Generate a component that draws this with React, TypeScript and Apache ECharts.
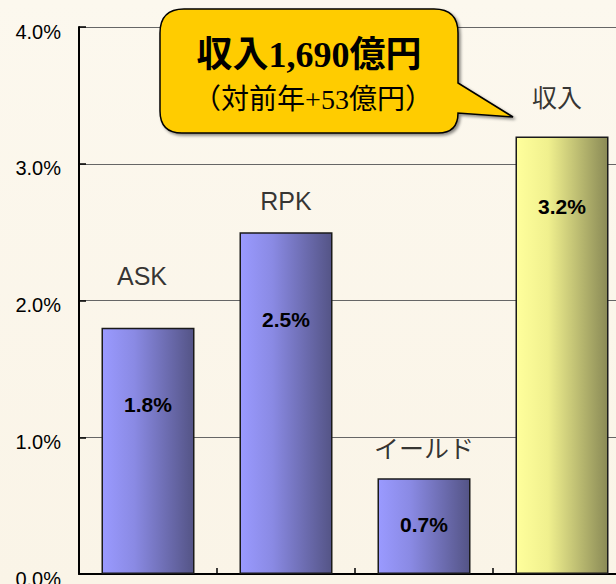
import React, { useEffect, useRef } from "react";
import * as echarts from "echarts";

// ---- data ----
const categories = ["ASK", "RPK", "イールド", "収入"];
const values = [1.8, 2.5, 0.7, 3.2];
const yMin = 0;
const yMax = 4;
const yInterval = 1;
const calloutTitle = "収入1,690億円";
const calloutSub = "（対前年+53億円）";

// ---- styling (per-bar label placement) ----
const valueLabelDistance = [66, 77, 36, 60];
const nameLabelDistance = [39, 18, 16, 25];
const nameLabelOffsetX = [-6, 0, 0, -5];

const SANS = "'Liberation Sans', 'Noto Sans CJK JP', sans-serif";
const SERIF = "'Liberation Serif', 'Noto Sans CJK JP', serif";

const calloutPath =
  "M 184 9 L 434 9 Q 458 9 458 33 L 458 83 L 513 117 L 458 113 Q 458 133 438 133 L 182 133 Q 160 133 160 111 L 160 33 Q 160 9 184 9 Z";
echarts.graphic.registerShape("callout", echarts.graphic.extendPath(calloutPath, {}));

const blueGrad = new echarts.graphic.LinearGradient(0, 0, 1, 0, [
  { offset: 0, color: "#9A9AFF" },
  { offset: 0.35, color: "#8A8AE4" },
  { offset: 1, color: "#545486" },
]);
const yellowGrad = new echarts.graphic.LinearGradient(0, 0, 1, 0, [
  { offset: 0, color: "#FFFF9C" },
  { offset: 0.35, color: "#F0F08E" },
  { offset: 1, color: "#8A8A56" },
]);

export default function App() {
  const ref = useRef<HTMLDivElement>(null);
  useEffect(() => {
    if (!ref.current) return;
    const chart = echarts.init(ref.current, null, { renderer: "svg" });
    chart.setOption({
      animation: false,
      backgroundColor: new echarts.graphic.LinearGradient(0, 0, 0, 1, [
        { offset: 0, color: "#FCF8EE" },
        { offset: 1, color: "#FAF4E7" },
      ]),
      grid: { left: 79, right: 9, top: 27, bottom: 10, containLabel: false, outerBoundsMode: "none" },
      xAxis: {
        type: "category",
        data: categories,
        boundaryGap: true,
        axisLine: { show: true, lineStyle: { color: "#000", width: 2 } },
        axisTick: { show: true, inside: true, length: 6, interval: 0, lineStyle: { color: "#000", width: 1.5 } },
        axisLabel: { show: false },
        splitLine: { show: false },
      },
      yAxis: {
        type: "value",
        min: yMin,
        max: yMax,
        interval: yInterval,
        axisLine: { show: true, lineStyle: { color: "#000", width: 2 } },
        axisTick: { show: true, inside: true, length: 7, lineStyle: { color: "#000", width: 1.5 } },
        axisLabel: {
          formatter: (v: number) => v.toFixed(1) + "%",
          fontFamily: SANS,
          fontSize: 20,
          color: "#000",
          margin: 18,
          verticalAlign: "top",
          lineHeight: 9,
        },
        splitLine: { show: true, lineStyle: { color: "#666", width: 1 } },
      },
      series: [
        {
          type: "bar",
          barWidth: "67.4%",
          data: values.map((v, i) => ({
            value: v,
            itemStyle: { color: i === 3 ? yellowGrad : blueGrad },
            label: { distance: valueLabelDistance[i] },
          })),
          itemStyle: { borderColor: "#1a1a1a", borderWidth: 1.5 },
          label: {
            show: true,
            position: "insideTop",
            formatter: (p: any) => Number(p.value).toFixed(1) + "%",
            fontFamily: SANS,
            fontWeight: "bold",
            fontSize: 21,
            color: "#000",
          },
          z: 3,
        },
        {
          type: "scatter",
          symbolSize: 1,
          itemStyle: { color: "rgba(0,0,0,0)" },
          silent: true,
          data: values.map((v, i) => ({
            value: v,
            label: { distance: nameLabelDistance[i], offset: [nameLabelOffsetX[i], 0] },
          })),
          label: {
            show: true,
            position: "top",
            formatter: (p: any) => categories[p.dataIndex],
            fontFamily: SANS,
            fontSize: 25,
            color: "#000",
          },
          z: 4,
        },
      ],
      graphic: [
        {
          type: "callout",
          x: 0,
          y: 0,
          z: 100,
          style: {
            fill: "#FFCC00",
            stroke: "#000",
            lineWidth: 1.5,
            shadowColor: "rgba(0,0,0,0.45)",
            shadowBlur: 3,
            shadowOffsetX: 2,
            shadowOffsetY: 2,
          },
        },
        {
          type: "text",
          x: 309,
          y: 55,
          z: 101,
          style: {
            text: calloutTitle,
            fontFamily: SERIF,
            fontWeight: "bold",
            fontSize: 36,
            fill: "#000",
            align: "center",
            verticalAlign: "middle",
          },
        },
        {
          type: "text",
          x: 313,
          y: 99,
          z: 101,
          style: {
            text: calloutSub,
            fontFamily: SERIF,
            fontSize: 28,
            fill: "#000",
            align: "center",
            verticalAlign: "middle",
          },
        },
      ],
    });
    return () => chart.dispose();
  }, []);
  return (
    <div style={{ position: "fixed", left: 0, top: 0, width: 616, height: 584, overflow: "hidden" }}>
      <div ref={ref} style={{ width: 640, height: 584 }} />
    </div>
  );
}
